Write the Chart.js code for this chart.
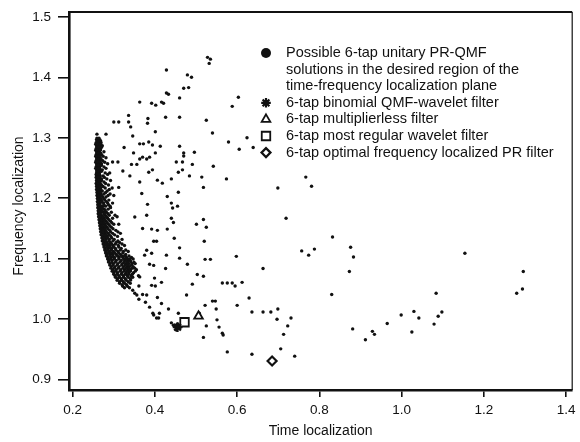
<!DOCTYPE html>
<html><head><meta charset="utf-8">
<script src="https://cdn.jsdelivr.net/npm/chart.js@4/dist/chart.umd.min.js"></script>
<style>html,body{margin:0;padding:0;background:#fff;}#wrap{width:580px;height:442px;}</style>
</head><body><div id="wrap"><canvas id="c" width="580" height="442"></canvas></div>
<script>
const xTicks = [0.2, 0.4, 0.6, 0.8, 1.0, 1.2, 1.4];
const yTicks = [0.9, 1.0, 1.1, 1.2, 1.3, 1.4, 1.5];
const xTitle = 'Time localization';
const yTitle = 'Frequency localization';

// dense band of solutions: [frequency localization, [time localization values]]
const bandRows = [
  [1.297, [0.258, 0.262, 0.266]],
  [1.292, [0.257, 0.260, 0.264, 0.269]],
  [1.287, [0.258, 0.261, 0.266, 0.272]],
  [1.282, [0.257, 0.262, 0.268]],
  [1.277, [0.258, 0.261, 0.265, 0.276]],
  [1.272, [0.257, 0.260, 0.266, 0.270]],
  [1.267, [0.258, 0.262, 0.267, 0.281]],
  [1.262, [0.257, 0.261, 0.265, 0.273]],
  [1.257, [0.258, 0.260, 0.264, 0.270, 0.285]],
  [1.252, [0.257, 0.261, 0.266, 0.276]],
  [1.247, [0.258, 0.262, 0.268, 0.272]],
  [1.242, [0.258, 0.261, 0.265, 0.279, 0.290]],
  [1.237, [0.258, 0.262, 0.267, 0.274]],
  [1.232, [0.259, 0.263, 0.270, 0.283]],
  [1.227, [0.259, 0.262, 0.266, 0.276]],
  [1.222, [0.259, 0.264, 0.270, 0.287]],
  [1.217, [0.260, 0.263, 0.268, 0.279, 0.296]],
  [1.212, [0.260, 0.265, 0.272, 0.284]],
  [1.207, [0.261, 0.264, 0.269, 0.276, 0.291]],
  [1.202, [0.261, 0.266, 0.273, 0.281]],
  [1.197, [0.262, 0.265, 0.270, 0.278, 0.288]],
  [1.192, [0.262, 0.267, 0.275, 0.285, 0.297]],
  [1.187, [0.263, 0.268, 0.272, 0.280, 0.291]],
  [1.182, [0.264, 0.269, 0.277, 0.286]],
  [1.177, [0.264, 0.268, 0.274, 0.282, 0.294]],
  [1.172, [0.265, 0.270, 0.279, 0.289, 0.303]],
  [1.167, [0.266, 0.271, 0.276, 0.285, 0.297]],
  [1.162, [0.267, 0.273, 0.281, 0.292]],
  [1.157, [0.268, 0.272, 0.278, 0.287, 0.300, 0.312]],
  [1.152, [0.269, 0.275, 0.283, 0.294]],
  [1.147, [0.270, 0.276, 0.280, 0.290, 0.305]],
  [1.142, [0.271, 0.278, 0.286, 0.297, 0.316]],
  [1.137, [0.273, 0.279, 0.284, 0.293, 0.309]],
  [1.132, [0.274, 0.281, 0.289, 0.301, 0.320]],
  [1.127, [0.276, 0.283, 0.292, 0.306, 0.314]],
  [1.122, [0.277, 0.285, 0.290, 0.298, 0.311, 0.326]],
  [1.117, [0.279, 0.287, 0.295, 0.304, 0.318]],
  [1.112, [0.281, 0.289, 0.299, 0.310, 0.323, 0.335]],
  [1.107, [0.283, 0.291, 0.297, 0.306, 0.316, 0.329]],
  [1.102, [0.286, 0.294, 0.302, 0.313, 0.322, 0.331, 0.343]],
  [1.097, [0.288, 0.296, 0.306, 0.318, 0.327, 0.334, 0.340]],
  [1.092, [0.291, 0.299, 0.310, 0.321, 0.329, 0.336, 0.345, 0.352]],
  [1.087, [0.294, 0.303, 0.313, 0.324, 0.332, 0.338, 0.347]],
  [1.082, [0.297, 0.306, 0.317, 0.326, 0.334, 0.341, 0.355]],
  [1.077, [0.300, 0.309, 0.320, 0.330, 0.337, 0.348]],
  [1.072, [0.303, 0.312, 0.323, 0.333, 0.342, 0.360]],
  [1.067, [0.309, 0.318, 0.328, 0.340]],
  [1.062, [0.314, 0.323, 0.335]],
  [1.057, [0.320, 0.331]],
  [1.052, [0.326, 0.338]]
];

// second, interleaved read of the same dense band
const bandRowsB = [
  [1.2995, [0.259, 0.264]],
  [1.2945, [0.259, 0.263, 0.268]],
  [1.2895, [0.256, 0.262, 0.267]],
  [1.2845, [0.259, 0.264, 0.270]],
  [1.2795, [0.256, 0.260, 0.267]],
  [1.2745, [0.259, 0.263, 0.268]],
  [1.2695, [0.256, 0.260, 0.264, 0.274]],
  [1.2645, [0.259, 0.263, 0.269]],
  [1.2595, [0.256, 0.262, 0.267, 0.278]],
  [1.2545, [0.259, 0.263, 0.270]],
  [1.2495, [0.256, 0.260, 0.265, 0.281]],
  [1.2445, [0.259, 0.263, 0.270]],
  [1.2395, [0.257, 0.260, 0.265, 0.285]],
  [1.2345, [0.257, 0.261, 0.266, 0.277]],
  [1.2295, [0.258, 0.264, 0.270, 0.292]],
  [1.2245, [0.257, 0.261, 0.267, 0.280]],
  [1.2195, [0.258, 0.262, 0.266, 0.274]],
  [1.2145, [0.258, 0.262, 0.268, 0.289]],
  [1.2095, [0.259, 0.263, 0.267, 0.280]],
  [1.2045, [0.259, 0.263, 0.270, 0.286, 0.300]],
  [1.1995, [0.260, 0.264, 0.268, 0.276]],
  [1.1945, [0.260, 0.264, 0.271, 0.282]],
  [1.1895, [0.261, 0.266, 0.276, 0.287]],
  [1.1845, [0.261, 0.266, 0.272, 0.292]],
  [1.1795, [0.262, 0.266, 0.271, 0.279]],
  [1.1745, [0.262, 0.267, 0.277, 0.286]],
  [1.1695, [0.263, 0.268, 0.274, 0.282, 0.308]],
  [1.1645, [0.264, 0.270, 0.278, 0.288]],
  [1.1595, [0.265, 0.270, 0.276, 0.284, 0.295]],
  [1.1545, [0.266, 0.272, 0.280, 0.290]],
  [1.1495, [0.267, 0.273, 0.278, 0.286, 0.298]],
  [1.1445, [0.268, 0.275, 0.282, 0.292, 0.310]],
  [1.1395, [0.269, 0.276, 0.281, 0.289, 0.302]],
  [1.1345, [0.271, 0.277, 0.285, 0.295]],
  [1.1295, [0.272, 0.279, 0.288, 0.298, 0.310]],
  [1.1245, [0.274, 0.281, 0.287, 0.295, 0.304, 0.320]],
  [1.1195, [0.276, 0.283, 0.291, 0.300, 0.312]],
  [1.1145, [0.278, 0.285, 0.294, 0.305, 0.316, 0.329]],
  [1.1095, [0.280, 0.287, 0.294, 0.302, 0.312, 0.322]],
  [1.1045, [0.282, 0.290, 0.298, 0.309, 0.319, 0.326, 0.337]],
  [1.0995, [0.285, 0.292, 0.301, 0.312, 0.324, 0.331, 0.338, 0.347]],
  [1.0945, [0.287, 0.295, 0.304, 0.315, 0.325, 0.333, 0.341, 0.349]],
  [1.0895, [0.290, 0.298, 0.308, 0.319, 0.328, 0.335, 0.343]],
  [1.0845, [0.293, 0.301, 0.311, 0.322, 0.330, 0.337, 0.345, 0.351]],
  [1.0795, [0.296, 0.304, 0.315, 0.325, 0.333, 0.340, 0.352]],
  [1.0745, [0.300, 0.308, 0.318, 0.328, 0.336, 0.345]],
  [1.0695, [0.304, 0.314, 0.324, 0.335, 0.346]],
  [1.0645, [0.308, 0.319, 0.330]],
  [1.0595, [0.314, 0.326, 0.340]],
  [1.0545, [0.322, 0.333]]
];

// scattered solutions: [time localization, frequency localization]
const scattered = [
  [0.528,1.433],[0.535,1.430],[0.532,1.423],
  [0.428,1.412],[0.479,1.404],[0.489,1.400],[0.482,1.383],[0.470,1.382],
  [0.428,1.374],[0.433,1.372],[0.460,1.366],[0.603,1.367],
  [0.363,1.359],[0.392,1.357],[0.402,1.354],[0.416,1.359],[0.421,1.357],[0.588,1.352],
  [0.336,1.337],[0.426,1.334],[0.460,1.334],[0.383,1.332],[0.525,1.329],
  [0.300,1.326],[0.312,1.326],[0.336,1.326],[0.382,1.324],
  [0.341,1.318],[0.401,1.310],[0.540,1.308],[0.346,1.303],[0.624,1.300],
  [0.259,1.306],[0.281,1.306],
  [0.363,1.290],[0.372,1.290],[0.385,1.293],[0.394,1.288],[0.413,1.286],[0.460,1.286],[0.579,1.293],
  [0.325,1.284],[0.605,1.281],[0.639,1.284],
  [0.348,1.275],[0.401,1.275],[0.496,1.276],[0.470,1.275],[0.470,1.270],
  [0.363,1.265],[0.370,1.268],[0.380,1.265],[0.387,1.268],
  [0.452,1.260],[0.467,1.260],[0.491,1.256],[0.297,1.260],[0.310,1.260],[0.343,1.256],[0.356,1.256],
  [0.542,1.253],[0.322,1.245],[0.385,1.243],[0.394,1.247],[0.457,1.243],[0.467,1.247],
  [0.339,1.237],[0.484,1.237],[0.514,1.235],[0.574,1.232],[0.767,1.235],
  [0.363,1.227],[0.406,1.230],[0.418,1.225],[0.440,1.232],[0.781,1.220],
  [0.312,1.218],[0.518,1.218],[0.699,1.217],
  [0.368,1.208],[0.430,1.203],[0.457,1.210],
  [0.382,1.190],[0.440,1.192],[0.443,1.184],[0.455,1.187],
  [0.351,1.169],[0.380,1.172],[0.440,1.167],[0.445,1.160],[0.518,1.165],[0.719,1.167],
  [0.501,1.157],[0.525,1.152],
  [0.370,1.150],[0.392,1.149],[0.406,1.147],[0.430,1.149],
  [0.447,1.134],[0.832,1.136],[0.520,1.129],[0.397,1.129],[0.404,1.129],
  [0.460,1.118],[0.380,1.114],[0.757,1.113],[0.788,1.116],[0.876,1.119],[1.154,1.109],
  [0.375,1.106],[0.392,1.109],[0.428,1.106],[0.774,1.106],[0.598,1.104],[0.883,1.103],
  [0.460,1.101],[0.522,1.099],[0.535,1.099],
  [0.479,1.091],[0.387,1.091],[0.397,1.089],[0.426,1.084],[0.663,1.084],
  [0.873,1.079],[1.296,1.079],[0.503,1.074],[0.518,1.071],
  [0.363,1.070],[0.341,1.065],[0.399,1.068],[0.416,1.061],[0.612,1.061],
  [0.564,1.060],[0.576,1.060],[0.588,1.060],[0.595,1.055],[0.491,1.058],
  [0.392,1.056],[0.401,1.055],[0.361,1.055],[1.294,1.050],
  [0.346,1.048],[0.351,1.043],[0.356,1.040],[0.370,1.041],[0.380,1.040],[0.477,1.040],
  [0.830,1.041],[1.084,1.043],[1.280,1.043],
  [0.406,1.036],[0.629,1.035],[0.361,1.033],[0.540,1.030],[0.547,1.030],
  [0.377,1.028],[0.416,1.026],[0.522,1.023],[0.600,1.023],
  [0.387,1.020],[0.433,1.017],[0.549,1.017],[0.699,1.017],
  [0.636,1.012],[0.663,1.012],[0.682,1.012],[1.030,1.013],[1.098,1.012],
  [0.457,1.010],[0.395,1.010],[0.411,1.010],[0.508,1.010],
  [0.397,1.007],[0.999,1.007],[1.089,1.005],
  [0.404,1.002],[0.409,1.002],[0.731,1.002],[1.042,1.002],
  [0.551,0.999],[0.697,1.000],
  [0.440,0.994],[0.445,0.990],[0.450,0.987],[0.455,0.992],[0.460,0.985],[0.452,0.982],[0.465,0.989],
  [0.965,0.993],[1.079,0.992],
  [0.525,0.989],[0.556,0.987],[0.723,0.989],[0.881,0.984],
  [0.564,0.977],[0.713,0.975],[0.566,0.974],[0.929,0.980],[0.934,0.975],[1.025,0.979],
  [0.518,0.970],[0.912,0.966],
  [0.706,0.951],[0.576,0.946],[0.636,0.942],[0.740,0.939]
];

const binomialQMF = [[0.455, 0.987]];
const multiplierless = [[0.506, 1.005]];
const mostRegular = [[0.472, 0.995]];
const optimalPR = [[0.685, 0.931]];

const legendLabels = [
  ["Possible 6-tap unitary PR-QMF", "solutions in the desired region of the", "time-frequency localization plane"],
  ["6-tap binomial QMF-wavelet filter"],
  ["6-tap multiplierless filter"],
  ["6-tap most regular wavelet filter"],
  ["6-tap optimal frequency localized PR filter"]
];

const FONT = "'Liberation Sans', Arial, Helvetica, sans-serif";
const INK = '#111';

const toPts = arr => arr.map(p => ({x: p[0], y: p[1]}));
const solutionPts = [];
bandRows.concat(bandRowsB).forEach(r => r[1].forEach(x => solutionPts.push({x: x, y: r[0]})));
toPts(scattered).forEach(p => solutionPts.push(p));

const markerStyles = [
  {pointStyle: 'circle', radius: 5, borderWidth: 0, fill: INK},
  {pointStyle: 'star', radius: 4.8, borderWidth: 2.2, fill: INK},
  {pointStyle: 'triangle', radius: 5, borderWidth: 1.8, fill: '#fff'},
  {pointStyle: 'rect', radius: 6, borderWidth: 1.8, fill: '#fff'},
  {pointStyle: 'rectRot', radius: 4.5, borderWidth: 2.2, fill: '#fff'}
];

const legendPlugin = {
  id: 'customLegend',
  afterDraw(chart) {
    const ctx = chart.ctx, a = chart.chartArea;
    ctx.save();
    // frame top/right
    ctx.strokeStyle = INK;
    ctx.lineWidth = 2;
    ctx.beginPath(); ctx.moveTo(a.left, a.top); ctx.lineTo(a.right, a.top); ctx.stroke();
    ctx.lineWidth = 1.2;
    ctx.beginPath(); ctx.moveTo(a.right, a.top); ctx.lineTo(a.right, a.bottom); ctx.stroke();
    // y axis title
    ctx.save();
    ctx.translate(19, a.top + 194);
    ctx.rotate(-Math.PI / 2);
    ctx.font = '14px ' + FONT;
    ctx.fillStyle = INK;
    ctx.textAlign = 'center';
    ctx.textBaseline = 'middle';
    ctx.fillText(yTitle, 0, 0);
    ctx.restore();
    // legend
    const mx = a.left + 197, tx = a.left + 217, y0 = a.top + 41, dy = 16.6;
    ctx.font = '14.5px ' + FONT;
    ctx.textBaseline = 'middle';
    ctx.textAlign = 'left';
    let row = 0;
    legendLabels.forEach((lines, i) => {
      const y = y0 + row * dy;
      const m = markerStyles[i];
      ctx.fillStyle = m.fill;
      ctx.strokeStyle = INK;
      ctx.lineWidth = m.borderWidth;
      Chart.helpers.drawPoint(ctx, {pointStyle: m.pointStyle, radius: m.radius, borderWidth: m.borderWidth, rotation: 0}, mx, y);
      ctx.fillStyle = INK;
      lines.forEach((t, j) => ctx.fillText(t, tx, y0 + (row + j) * dy));
      row += lines.length;
    });
    ctx.restore();
  }
};

const special = (data, m) => ({
  data: toPts(data), pointStyle: m.pointStyle, pointRadius: m.radius,
  pointBorderWidth: m.borderWidth, pointBackgroundColor: m.fill, pointBorderColor: INK,
  pointHoverRadius: m.radius
});

new Chart(document.getElementById('c'), {
  type: 'scatter',
  data: {
    datasets: [
      special(binomialQMF, markerStyles[1]),
      special(multiplierless, markerStyles[2]),
      special(mostRegular, markerStyles[3]),
      special(optimalPR, markerStyles[4]),
      {data: solutionPts, pointStyle: 'circle', pointRadius: 1.7, pointBorderWidth: 0,
       pointBackgroundColor: INK, pointBorderColor: INK}
    ]
  },
  options: {
    responsive: false, animation: false,
    layout: {padding: {top: 12, right: 5, left: 0, bottom: 0}},
    plugins: {legend: {display: false}, tooltip: {enabled: false}},
    scales: {
      x: {
        type: 'linear', min: 0.191, max: 1.415,
        afterBuildTicks: s => { s.ticks = xTicks.map(v => ({value: v})); },
        afterFit: s => { s.height = 52; s.paddingLeft = 0; s.paddingRight = 0; },
        ticks: {callback: v => Number(v).toFixed(1), font: {size: 13.5, family: FONT}, color: INK, padding: 5, maxRotation: 0, autoSkip: false},
        grid: {display: true, drawOnChartArea: false, drawTicks: true, tickLength: 7, color: INK, lineWidth: 1.6},
        border: {display: true, color: INK, width: 2.6},
        title: {display: true, text: xTitle, font: {size: 14, family: FONT}, color: INK, padding: {top: 0, bottom: 2}}
      },
      y: {
        type: 'linear', min: 0.883, max: 1.508,
        afterBuildTicks: s => { s.ticks = yTicks.map(v => ({value: v})); },
        afterFit: s => { s.width = 69; s.paddingTop = 0; s.paddingBottom = 0; },
        ticks: {callback: v => Number(v).toFixed(1), font: {size: 13.5, family: FONT}, color: INK, padding: 7, autoSkip: false},
        grid: {display: true, drawOnChartArea: false, drawTicks: true, tickLength: 11, color: INK, lineWidth: 1.6},
        border: {display: true, color: INK, width: 2.6},
        title: {display: false}
      }
    }
  },
  plugins: [legendPlugin]
});
</script>
</body></html>
